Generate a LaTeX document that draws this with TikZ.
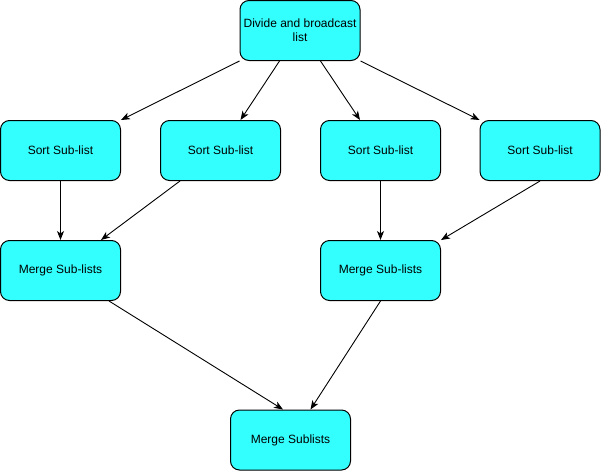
\documentclass[tikz,border=0pt]{standalone}
\usepackage{fontspec}
\setmainfont{Liberation Sans}
\usetikzlibrary{arrows.meta,calc}
\definecolor{boxfill}{HTML}{33FFFF}
\tikzset{
  box/.style={draw=black, fill=boxfill, line width=1pt, rounded corners=9pt,
    minimum width=120pt, minimum height=60pt, inner sep=0pt, align=center,
    font=\fontsize{12}{14}\selectfont},
  conn/.style={line width=0.9pt, -{Stealth[length=9pt,width=7pt,inset=2.5pt]}}
}
\begin{document}
\begin{tikzpicture}[x=1pt,y=-1pt]
\useasboundingbox (0,0) rectangle (601,471);
\node[box] (top) at (300,30.5) {Divide and broadcast\\list};
\node[box] (s1) at (60.5,150.5) {Sort Sub-list};
\node[box] (s2) at (220.5,150.5) {Sort Sub-list};
\node[box] (s3) at (380.5,150.5) {Sort Sub-list};
\node[box] (s4) at (540,150.5) {Sort Sub-list};
\node[box] (m1) at (60.5,270.5) {Merge Sub-lists};
\node[box] (m2) at (380.5,270.5) {Merge Sub-lists};
\node[box] (f) at (290.5,440) {Merge Sublists};
\draw[conn] (top.south west) -- (s1.north east);
\draw[conn] ($(top.south west)+(40,0)$) -- ($(s2.north)+(20,0)$);
\draw[conn] ($(top.south east)+(-40,0)$) -- ($(s3.north west)+(40,0)$);
\draw[conn] (top.south east) -- (s4.north west);
\draw[conn] (s1.south) -- (m1.north);
\draw[conn] ($(s2.south west)+(20,0)$) -- ($(m1.north east)+(-20,0)$);
\draw[conn] (s3.south) -- (m2.north);
\draw[conn] (s4.south) -- (m2.north east);
\draw[conn] ($(m1.south east)+(-12,0)$) -- ($(f.north west)+(53,0)$);
\draw[conn] (m2.south) -- ($(f.north)+(20,0)$);
\end{tikzpicture}
\end{document}
